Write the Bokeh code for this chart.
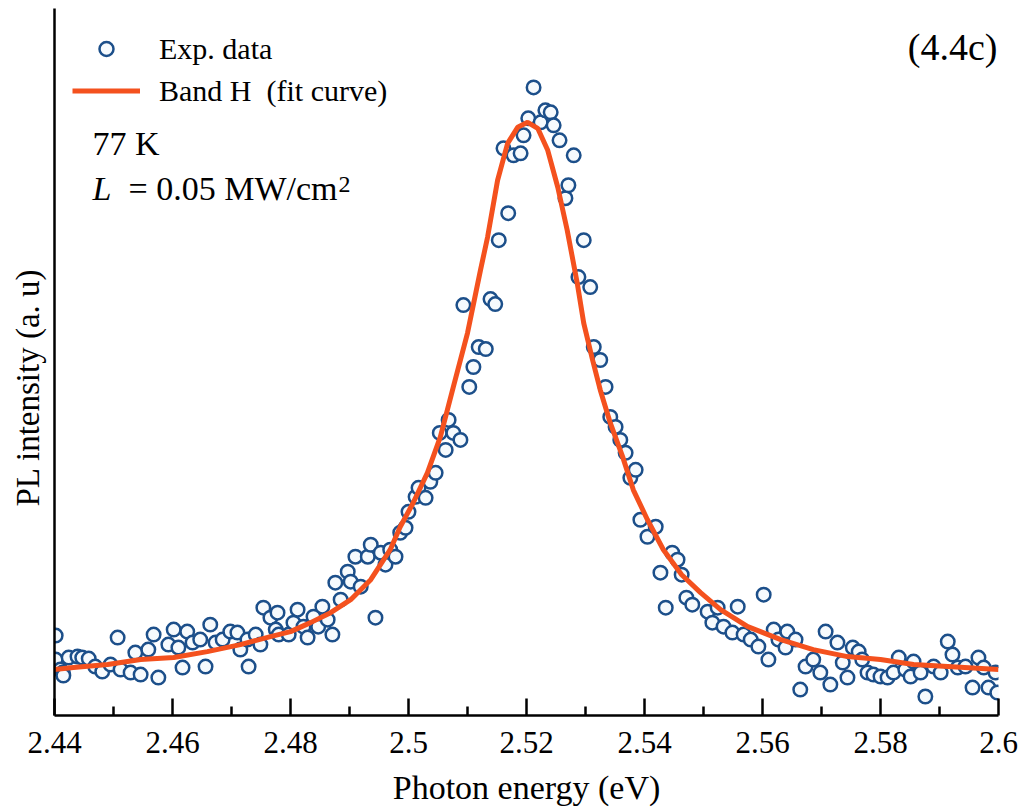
from bokeh.plotting import figure
from bokeh.models import (Range1d, FixedTicker, NumeralTickFormatter, Legend,
                          LegendItem, Label, Title)
from bokeh.embed import file_html
from bokeh.resources import INLINE

# ---------------- data (arbitrary intensity units) ----
exp_energy = [
    2.4402, 2.4402, 2.4410, 2.4414, 2.4415, 2.4424, 2.4439, 2.4447, 2.4458, 2.4469,
    2.4481, 2.4495, 2.4507, 2.4512, 2.4529, 2.4537, 2.4546, 2.4559, 2.4568, 2.4576,
    2.4593, 2.4602, 2.4610, 2.4617, 2.4625, 2.4634, 2.4647, 2.4656, 2.4664, 2.4673,
    2.4685, 2.4698, 2.4710, 2.4715, 2.4727, 2.4729, 2.4741, 2.4749, 2.4754, 2.4766,
    2.4775, 2.4778, 2.4780, 2.4797, 2.4805, 2.4812, 2.4822, 2.4829, 2.4839, 2.4847,
    2.4854, 2.4863, 2.4871, 2.4876, 2.4885, 2.4897, 2.4902, 2.4910, 2.4919, 2.4931,
    2.4936, 2.4944, 2.4953, 2.4961, 2.4969, 2.4978, 2.4986, 2.4995, 2.5000, 2.5012,
    2.5017, 2.5029, 2.5037, 2.5046, 2.5053, 2.5063, 2.5068, 2.5076, 2.5088, 2.5093,
    2.5103, 2.5110, 2.5119, 2.5131, 2.5139, 2.5147, 2.5153, 2.5161, 2.5169, 2.5178,
    2.5190, 2.5195, 2.5203, 2.5212, 2.5224, 2.5232, 2.5241, 2.5246, 2.5256, 2.5266,
    2.5271, 2.5280, 2.5288, 2.5297, 2.5308, 2.5314, 2.5325, 2.5334, 2.5342, 2.5351,
    2.5359, 2.5368, 2.5376, 2.5385, 2.5393, 2.5405, 2.5419, 2.5427, 2.5436, 2.5447,
    2.5456, 2.5463, 2.5471, 2.5481, 2.5507, 2.5515, 2.5524, 2.5534, 2.5549, 2.5558,
    2.5568, 2.5580, 2.5593, 2.5602, 2.5610, 2.5619, 2.5627, 2.5639, 2.5642, 2.5656,
    2.5664, 2.5673, 2.5686, 2.5698, 2.5707, 2.5715, 2.5727, 2.5736, 2.5744, 2.5753,
    2.5763, 2.5769, 2.5778, 2.5788, 2.5800, 2.5812, 2.5822, 2.5831, 2.5842, 2.5851,
    2.5856, 2.5868, 2.5876, 2.5890, 2.5902, 2.5914, 2.5922, 2.5931, 2.5944, 2.5956,
    2.5966, 2.5975, 2.5983, 2.5995, 2.5998,
]
exp_intensity = [
    80, 56, 46, 43, 40, 58, 59, 58, 57, 49,
    44, 51, 78, 46, 43, 63, 41, 66, 81, 38,
    71, 86, 68, 48, 84, 73, 76, 49, 91, 73,
    76, 84, 83, 66, 76, 49, 81, 71, 108, 98,
    86, 103, 81, 81, 93, 106, 89, 78, 99, 89,
    109, 96, 81, 133, 116, 144, 134, 159, 129, 159,
    171, 98, 163, 151, 166, 159, 183, 188, 204, 219,
    228, 218, 234, 243, 283, 266, 296, 283, 276, 411,
    329, 349, 369, 367, 417, 412, 476, 568, 503, 561,
    563, 581, 598, 629, 594, 606, 604, 591, 576, 518,
    531, 561, 439, 476, 429, 369, 356, 329, 299, 289,
    276, 263, 238, 246, 196, 179, 189, 143, 108, 163,
    156, 141, 118, 111, 104, 93, 108, 89, 83, 109,
    81, 76, 69, 121, 56, 86, 76, 68, 84, 76,
    26, 49, 56, 43, 84, 31, 73, 53, 38, 68,
    64, 56, 43, 41, 39, 38, 43, 58, 46, 39,
    54, 43, 19, 49, 43, 74, 61, 48, 49, 28,
    58, 48, 28, 43, 23,
]

fit_energy = [
    2.4400, 2.4432, 2.4490, 2.4546, 2.4602, 2.4659, 2.4715, 2.4766, 2.4800, 2.4834,
    2.4868, 2.4902, 2.4936, 2.4969, 2.4986, 2.5008, 2.5032, 2.5054, 2.5076, 2.5100,
    2.5122, 2.5134, 2.5151, 2.5168, 2.5185, 2.5202, 2.5219, 2.5236, 2.5253, 2.5269,
    2.5286, 2.5297, 2.5312, 2.5325, 2.5342, 2.5363, 2.5381, 2.5405, 2.5432, 2.5463,
    2.5495, 2.5529, 2.5575, 2.5631, 2.5686, 2.5744, 2.5800, 2.5856, 2.5914, 2.6000,
]
fit_intensity = [
    46, 48, 51, 56, 58, 64, 71, 79, 84, 93,
    103, 116, 136, 166, 189, 213, 243, 279, 329, 383,
    446, 479, 536, 573, 589, 594, 588, 566, 529, 486,
    433, 393, 356, 326, 293, 259, 226, 196, 166, 141,
    123, 106, 89, 76, 66, 59, 56, 51, 49, 46,
]

x_ticks = [2.44, 2.46, 2.48, 2.50, 2.52, 2.54, 2.56, 2.58, 2.60]
x_tick_labels = ["2.44", "2.46", "2.48", "2.5", "2.52", "2.54", "2.56", "2.58", "2.6"]
x_minor_ticks = [2.45, 2.47, 2.49, 2.51, 2.53, 2.55, 2.57, 2.59]

FONT = "Liberation Serif"
MARKER_LINE = "#1c4f8a"
MARKER_FILL = "#f6fafd"
CURVE = "#f4511e"

p = figure(width=1025, height=808, output_backend="svg", toolbar_location=None,
           x_range=Range1d(2.44, 2.60), y_range=Range1d(0, 708),
           min_border_left=54, min_border_right=27, min_border_top=8,
           min_border_bottom=92)
p.grid.visible = False
p.outline_line_color = None

# x axis
xa = p.xaxis[0]
xa.ticker = FixedTicker(ticks=x_ticks, minor_ticks=x_minor_ticks)
xa.formatter = NumeralTickFormatter(format="0.[00]")
xa.major_label_overrides = dict(zip(x_ticks, x_tick_labels))
xa.axis_line_width = 2.5
xa.axis_line_color = "black"
xa.major_tick_in = 17
xa.major_tick_out = 0
xa.major_tick_line_width = 2.5
xa.minor_tick_in = 9
xa.minor_tick_out = 0
xa.minor_tick_line_width = 2.5
xa.major_label_text_font = FONT
xa.major_label_text_font_size = "31px"
xa.major_label_text_color = "black"
xa.major_label_standoff = 16
xa.axis_label = "Photon energy (eV)"
xa.axis_label_text_font = FONT
xa.axis_label_text_font_size = "34px"
xa.axis_label_text_font_style = "normal"
xa.axis_label_text_color = "black"
xa.axis_label_standoff = 13

# y axis (no ticks)
ya = p.yaxis[0]
ya.ticker = FixedTicker(ticks=[])
ya.axis_line_width = 2.5
ya.axis_line_color = "black"
ya.major_tick_in = 0
ya.major_tick_out = 0
ya.minor_tick_in = 0
ya.minor_tick_out = 0
ya.major_label_standoff = 0

p.add_layout(Title(text="PL intensity  (a. u)", align="left", offset=209,
                   vertical_align="top", standoff=14, text_font=FONT,
                   text_font_size="33px", text_font_style="normal",
                   text_color="black"), "left")

r_exp = p.scatter(exp_energy, exp_intensity, marker="circle", size=13.5,
                  line_color=MARKER_LINE, fill_color=MARKER_FILL, line_width=2.5)
r_fit = p.line(fit_energy, fit_intensity, line_color=CURVE, line_width=5)

legend = Legend(items=[LegendItem(label="Exp. data", renderers=[r_exp]),
                       LegendItem(label="Band H  (fit curve)", renderers=[r_fit])],
                location=(18, 607), glyph_width=68, glyph_height=35,
                label_height=35, spacing=7, padding=0, margin=0,
                label_standoff=19, border_line_color=None,
                background_fill_alpha=0, label_text_font=FONT,
                label_text_font_size="30px", label_text_color="black")
p.add_layout(legend)

def lab(text, x, y, size, style="normal", align="left"):
    p.add_layout(Label(x=x, y=y, x_units="screen", y_units="screen", text=text,
                       text_font=FONT, text_font_size=size, text_font_style=style,
                       text_align=align, text_baseline="alphabetic",
                       text_color="black"))

lab("(4.4c)", 943, 669, "38px", align="right")
lab("77 K", 38, 572, "34px")
lab("L", 38, 527, "34px", style="italic")
lab("= 0.05 MW/cm", 74, 527, "34px")
lab("2", 284, 531, "24px")

open("out.html", "w").write(file_html(p, INLINE))
